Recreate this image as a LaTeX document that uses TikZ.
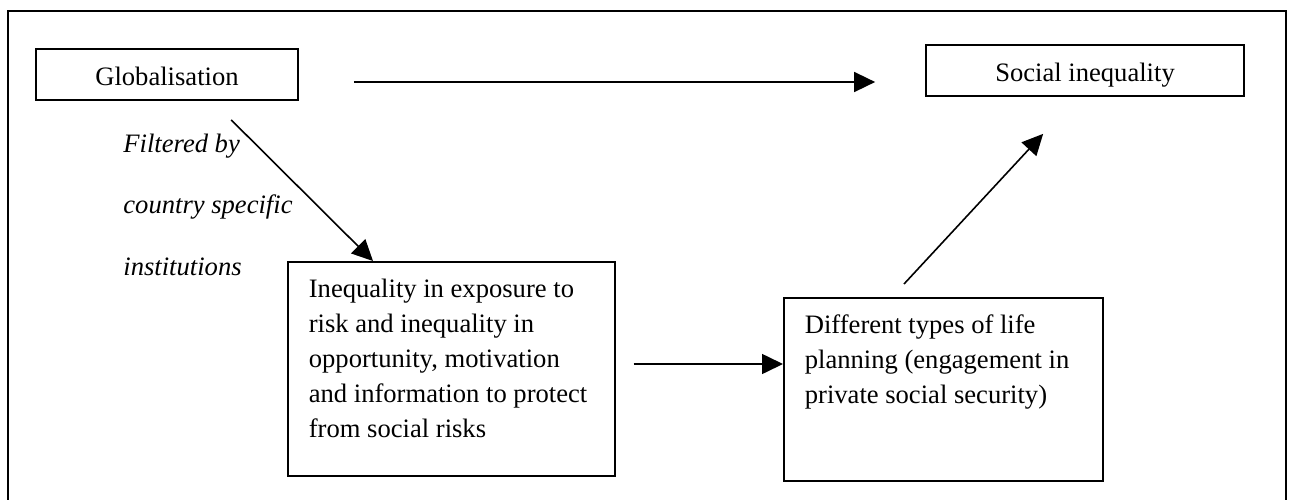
\documentclass[tikz,border=0pt]{standalone}
\usepackage{fontspec}
\setmainfont{Liberation Serif}
\usetikzlibrary{arrows.meta,calc}

% body size and leading of all labels
\newcommand\mainsize{\fontsize{13.3pt}{17.5pt}\selectfont}
% top-aligned, left-padded text block: width, height, first baseline, text
\newcommand\padtext[4]{%
  \parbox[t][#2][t]{#1}{\raggedright\leftskip=10.5pt\relax
    \vspace*{\dimexpr#3-10pt\relax}\rule{0pt}{10pt}#4}}

\tikzset{
  frame/.style={line width=0.85pt},
  titlebox/.style={draw, line width=0.85pt, inner sep=0pt, font=\mainsize,
    text height=11pt, text depth=0pt, minimum height=25.5pt},
  textbox/.style={draw, line width=0.85pt, inner sep=0pt, anchor=north west,
    font=\mainsize},
  note/.style={inner sep=0pt, anchor=base west, font=\mainsize\itshape},
  arr/.style={-{Triangle[length=10.5pt,width=10pt]}, line width=0.8pt},
}

\begin{document}
\begin{tikzpicture}[x=0.5pt, y=-0.5pt]
  \useasboundingbox (0,0) rectangle (1292,499);
  \clip (0,0) rectangle (1292,499);

  % enclosing frame, open at the bottom edge of the page
  \draw[frame] (8,520) -- (8,11) -- (1286,11) -- (1286,520);

  \node[titlebox, minimum width=131pt] (glob) at (167,74.5) {Globalisation};
  \node[titlebox, minimum width=159pt] (soc) at (1085,70.5) {Social inequality};

  \node[textbox] (ineq) at (287,261) {\padtext{163.5pt}{107pt}{18pt}{%
    Inequality in exposure to\\
    risk and inequality in\\
    opportunity, motivation\\
    and information to protect\\
    from social risks}};

  \node[textbox] (diff) at (783,297) {\padtext{159.5pt}{91.5pt}{18pt}{%
    Different types of life\\
    planning (engagement in\\
    private social security)}};

  \node[note] (filt1) at (123,152) {Filtered by};
  \node[note] (filt2) at (123,213) {country specific};
  \node[note] (filt3) at (123,275) {institutions};

  % causal links
  \draw[arr] ($(glob.east)+(55,7.5)$) -- ($(soc.west)+(-50,11.5)$);
  \draw[arr] ($(glob.south west)+(196,19)$) -- ($(ineq.north west)+(86,0)$);
  \draw[arr] ($(ineq.north east)+(18,103)$) -- ($(diff.north west)+(0,67)$);
  \draw[arr] ($(diff.north west)+(121,-13)$) -- ($(soc.south west)+(118,37)$);
\end{tikzpicture}
\end{document}
